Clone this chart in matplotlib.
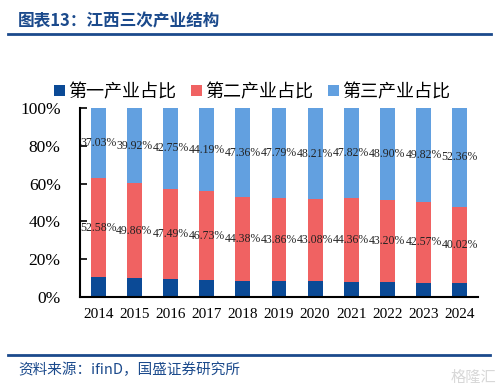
import matplotlib.pyplot as plt
import numpy as np

plt.rcParams['font.family'] = ['Noto Sans CJK SC', 'DejaVu Sans']

# data
years = ['2014', '2015', '2016', '2017', '2018', '2019', '2020', '2021', '2022', '2023', '2024']
secondary = [52.58, 49.86, 47.49, 46.73, 44.38, 43.86, 43.08, 44.36, 43.20, 42.57, 40.02]
tertiary = [37.03, 39.92, 42.75, 44.19, 47.36, 47.79, 48.21, 47.82, 48.90, 49.82, 52.36]
primary = [round(100 - s - t, 2) for s, t in zip(secondary, tertiary)]
labels = ['第一产业占比', '第二产业占比', '第三产业占比']

c1, c2, c3 = '#0b4a96', '#f06262', '#62a0e0'
navy = '#1b4a8c'

fig = plt.figure(figsize=(5.04, 3.87), dpi=100)
ax = fig.add_axes([0.159, 0.2326, 0.789, 0.4884])

x = np.arange(len(years))
p = np.array(primary)
s = np.array(secondary)
t = np.array(tertiary)
w = 0.41
b1 = ax.bar(x, p, w, color=c1, label=labels[0])
b2 = ax.bar(x, s, w, bottom=p, color=c2, label=labels[1])
b3 = ax.bar(x, t, w, bottom=p + s, color=c3, label=labels[2])

serif = 'Liberation Serif'
for i in range(len(x)):
    ax.text(x[i], p[i] + s[i] / 2, f'{s[i]:.2f}%', ha='center', va='center',
            fontsize=8.5, family=serif, color='#222222')
    ax.text(x[i], p[i] + s[i] + t[i] / 2, f'{t[i]:.2f}%', ha='center', va='center',
            fontsize=8.5, family=serif, color='#222222')

ax.set_xlim(-0.5, len(x) - 0.5)
ax.set_ylim(0, 100)
ax.set_yticks(range(0, 101, 20))
ax.set_yticklabels([f'{v}%' for v in range(0, 101, 20)], family=serif, fontsize=12.5)
ax.set_xticks(x)
ax.set_xticklabels(years, family=serif, fontsize=11)
ax.tick_params(axis='y', direction='in', length=5, width=1.2, pad=14)
ax.tick_params(axis='x', length=0, pad=8)
for side in ['top', 'right']:
    ax.spines[side].set_visible(False)
ax.spines['left'].set_linewidth(1.5)
ax.spines['bottom'].set_linewidth(1.5)

fig.legend(handles=[b1, b2, b3], labels=labels, loc='center', bbox_to_anchor=(0.5, 0.762),
           ncol=3, frameon=False, fontsize=13, handlelength=0.6, handleheight=0.6,
           handletextpad=0.2, columnspacing=0.8)

# header and footer
fig.text(0.036, 0.945, '图表13：江西三次产业结构', fontsize=12, fontweight='bold',
         style='italic', color=navy, va='center')
fig.add_artist(plt.Line2D([0.016, 0.975], [0.913, 0.913], color=navy, lw=2))
fig.add_artist(plt.Line2D([0.016, 0.973], [0.083, 0.083], color=navy, lw=2))
fig.text(0.036, 0.045, '资料来源：ifinD，国盛证券研究所', fontsize=10.5, style='italic',
         color=navy, va='center')
fig.text(0.985, 0.025, '格隆汇', fontsize=11, color='#d8d8d8', ha='right', va='center')

fig.savefig('out.png', dpi=100)
